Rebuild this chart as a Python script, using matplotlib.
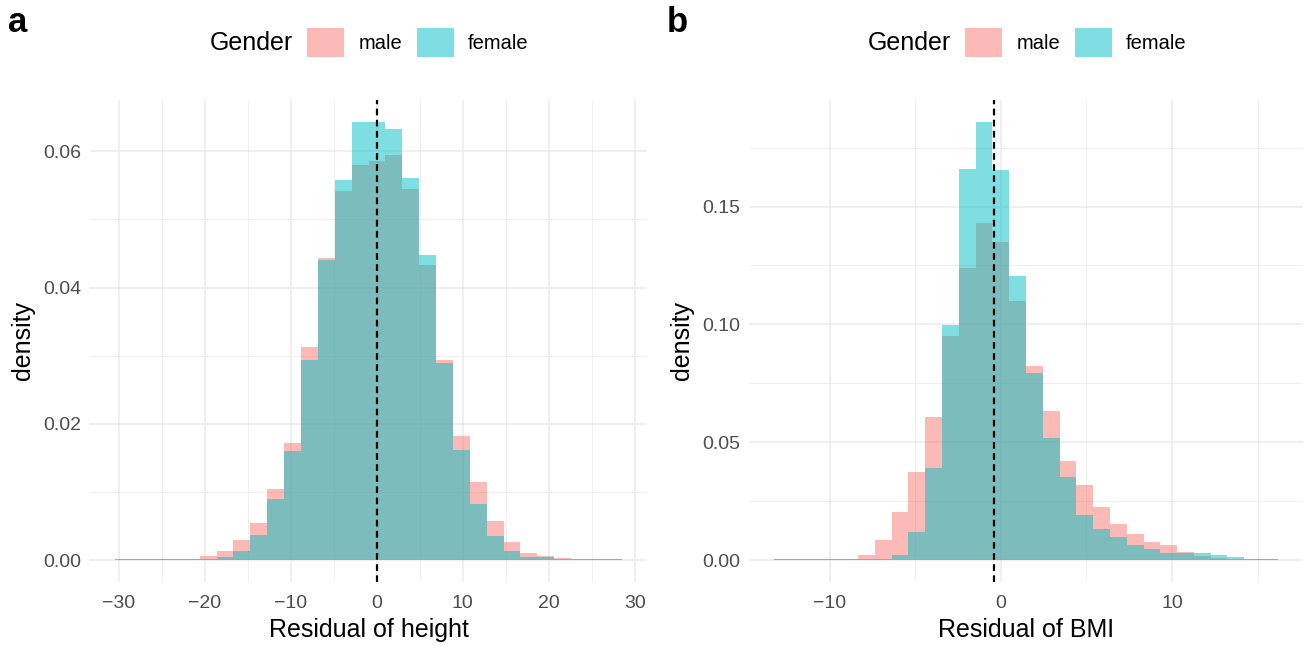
import numpy as np
import matplotlib
matplotlib.use("Agg")
import matplotlib.pyplot as plt
from matplotlib.patches import Patch

plt.rcParams["font.family"] = ["Liberation Sans", "DejaVu Sans"]

# Histogram densities (30 bins) for the residuals, split by gender
height_edges = (-30.4, 28.47)
height_male = [0.00015, 0.00015, 0.00015, 0.00015, 0.00015, 0.00054, 0.0014, 0.0030,
               0.0054, 0.0105, 0.0172, 0.0313, 0.0443, 0.0542, 0.0580, 0.0585,
               0.0594, 0.0545, 0.0433, 0.0294, 0.0182, 0.0114, 0.0058, 0.0027,
               0.0011, 0.00054, 0.00024, 0.00015, 0.00015, 0.00015]
height_female = [0.00015, 0.00015, 0.00015, 0.00015, 0.00015, 0.0002, 0.0004, 0.0013,
                 0.0037, 0.0089, 0.0160, 0.0294, 0.0440, 0.0558, 0.0643, 0.0643,
                 0.0633, 0.0560, 0.0447, 0.0289, 0.0162, 0.0083, 0.0035, 0.0013,
                 0.0005, 0.0004, 0.00015, 0.00015, 0.00015, 0.00015]
height_mean = 0.0

bmi_edges = (-13.25, 16.18)
bmi_male = [0.0004, 0.0004, 0.0004, 0.0004, 0.0004, 0.0020, 0.0087, 0.0202,
            0.0375, 0.0608, 0.0950, 0.1238, 0.1428, 0.1348, 0.1098, 0.0823,
            0.0633, 0.0421, 0.0320, 0.0227, 0.0155, 0.0109, 0.0075, 0.0066,
            0.0033, 0.0016, 0.0010, 0.0004, 0.0004, 0.0004]
bmi_female = [0.0004, 0.0004, 0.0004, 0.0004, 0.0004, 0.0004, 0.0004, 0.0020,
              0.0121, 0.0392, 0.0997, 0.1661, 0.1859, 0.1656, 0.1204, 0.0794,
              0.0519, 0.0354, 0.0193, 0.0130, 0.0096, 0.0066, 0.0049, 0.0032,
              0.0031, 0.0028, 0.0020, 0.0011, 0.0004, 0.0004]
bmi_mean = -0.42

genders = ["male", "female"]
colors = {"male": "#F8766D", "female": "#00BFC4"}

W, H = 1308, 646
fig = plt.figure(figsize=(W / 100, H / 100), dpi=100)


def px_axes(left, right, top, bottom):
    return fig.add_axes([left / W, 1 - bottom / H, (right - left) / W, (bottom - top) / H])


def panel(ax, edges, male, female, vline, xlabel, xticks, xminor, yticks, yminor, ylabels):
    breaks = np.linspace(edges[0], edges[1], len(male) + 1)
    bw = breaks[1] - breaks[0]
    for g, vals in zip(genders, [male, female]):
        ax.bar(breaks[:-1], vals, width=bw, align="edge", color=colors[g],
               alpha=0.5, linewidth=0)
    ax.axvline(vline, color="black", linewidth=1.6, linestyle=(0, (3.0, 2.0)), zorder=5)

    span = edges[1] - edges[0]
    ax.set_xlim(edges[0] - 0.05 * span, edges[1] + 0.05 * span)
    top = max(max(male), max(female))
    ax.set_ylim(-0.05 * top, 1.05 * top)

    ax.set_xticks(xticks)
    ax.set_xticklabels([str(t).replace("-", "\u2212") for t in xticks])
    ax.set_xticks(xminor, minor=True)
    ax.set_yticks(yticks)
    ax.set_yticklabels(ylabels)
    ax.set_yticks(yminor, minor=True)

    ax.grid(which="major", color="#EBEBEB", linewidth=1.1)
    ax.grid(which="minor", color="#EBEBEB", linewidth=0.55)
    ax.set_axisbelow(True)
    for s in ax.spines.values():
        s.set_visible(False)
    ax.tick_params(which="both", length=0, labelsize=14, labelcolor="#4D4D4D")
    ax.tick_params(axis="x", pad=9)
    ax.tick_params(axis="y", pad=6)
    ax.set_xlabel(xlabel, fontsize=18, labelpad=5)
    ax.set_ylabel("density", fontsize=18, labelpad=6)


ax_a = px_axes(90, 647, 100, 582)
panel(ax_a, height_edges, height_male, height_female, height_mean, "Residual of height",
      [-30, -20, -10, 0, 10, 20, 30], [-25, -15, -5, 5, 15, 25],
      [0, 0.02, 0.04, 0.06], [0.01, 0.03, 0.05], ["0.00", "0.02", "0.04", "0.06"])

ax_b = px_axes(749, 1303, 100, 582)
panel(ax_b, bmi_edges, bmi_male, bmi_female, bmi_mean, "Residual of BMI",
      [-10, 0, 10], [-5, 5, 15],
      [0, 0.05, 0.10, 0.15], [0.025, 0.075, 0.125, 0.175], ["0.00", "0.05", "0.10", "0.15"])

# Panel tags and the legend above each panel
handles = [Patch(facecolor=colors[g], alpha=0.5, linewidth=0) for g in genders]
for tag, tag_x, title_x, key_x in [("a", 8, 210, 307), ("b", 667, 868, 965)]:
    fig.text(tag_x / W, 1 - 32 / H, tag, fontsize=25, fontweight="bold", va="baseline", ha="left")
    fig.text(title_x / W, 1 - 42.5 / H, "Gender", fontsize=18, va="center", ha="left")
    fig.legend(handles, genders, loc="center left", bbox_to_anchor=(key_x / W, 1 - 42.5 / H),
               ncol=2, frameon=False, fontsize=14.5, handlelength=1.85, handleheight=1.85,
               handletextpad=0.7, columnspacing=0.72, borderpad=0, borderaxespad=0)

fig.savefig("out.png", dpi=100, facecolor="white")
